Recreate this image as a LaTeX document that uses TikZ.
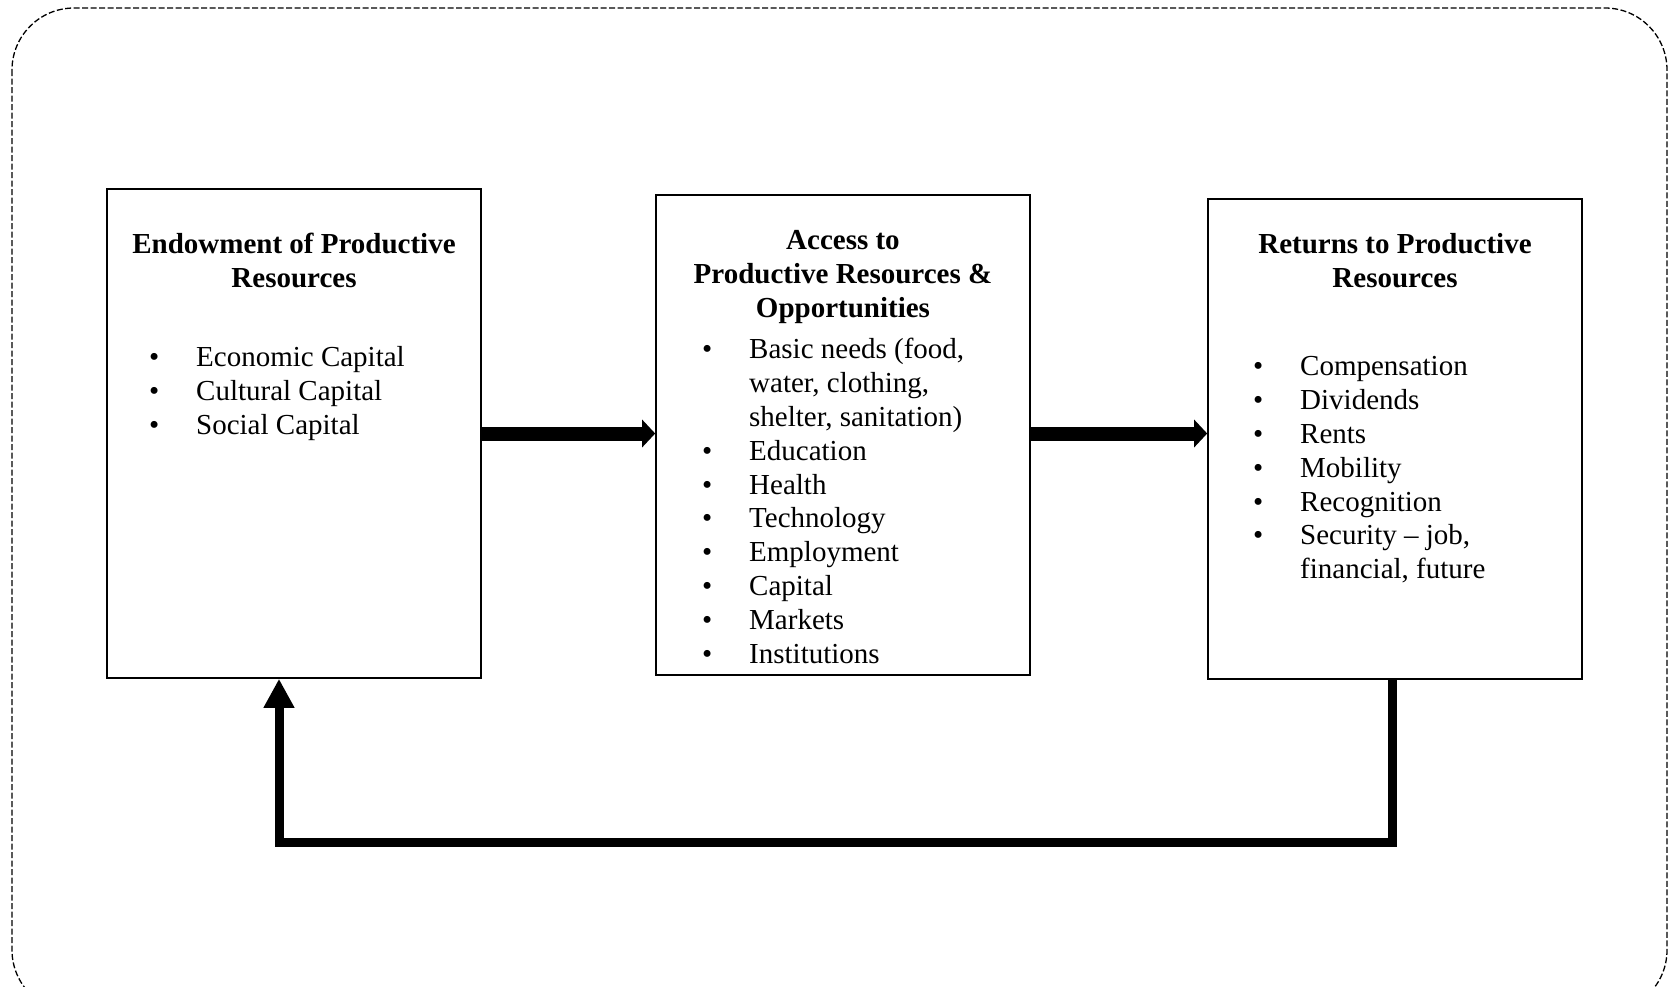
\documentclass[tikz,border=0pt]{standalone}
\usepackage{fontspec}
\setmainfont{Liberation Serif}
\usetikzlibrary{arrows.meta,positioning}

\newcommand{\bul}{\strut\makebox[47pt][l]{\textbullet}}
\newcommand{\ind}{\strut\hspace*{47pt}}

\tikzset{
	box/.style={draw, line width=1.6pt, minimum width=374pt, inner sep=0pt},
	head/.style={font=\fontsize{29}{33.8}\selectfont\bfseries, align=center, inner sep=0pt, anchor=north},
	items/.style={font=\fontsize{29}{33.8}\selectfont, align=left, inner sep=0pt, anchor=north west},
	fwd/.style={line width=14pt, -{Triangle[width=27pt,length=13pt]}},
	back/.style={line width=9pt, -{Triangle[width=29pt,length=29pt]}},
	frame/.style={line width=1.3pt, dash pattern=on 6pt off 2.5pt, rounded corners=62pt}
}

\begin{document}
\begin{tikzpicture}[x=1pt, y=-1pt]
		
		\useasboundingbox (0,0) rectangle (1672,986);
		\draw[frame] (12,8) rectangle (1667,1012);
		
		\node[box, minimum height=489pt] (b1) at (294,433.5) {};
		\node[box, minimum height=480pt] (b2) at (843,435) {};
		\node[box, minimum height=480pt] (b3) at (1395,439) {};
		
		\node[head] (t1) at (294,230) {\strut Endowment of Productive\\Resources};
		\node[head] (t2) at (843,226) {\strut Access to\\Productive Resources \&\\Opportunities};
		\node[head] (t3) at (1395,230) {\strut Returns to Productive\\Resources};
		
		\node[items] (l1) at (149,343) {\bul Economic Capital\\\bul Cultural Capital\\\bul Social Capital};
		\node[items] (l2) at (702,335) {\bul Basic needs (food,\\\ind water, clothing,\\\ind shelter, sanitation)\\\bul Education\\\bul Health\\\bul Technology\\\bul Employment\\\bul Capital\\\bul Markets\\\bul Institutions};
		\node[items] (l3) at (1253,352) {\bul Compensation\\\bul Dividends\\\bul Rents\\\bul Mobility\\\bul Recognition\\\bul Security -- job,\\\ind financial, future};
		
		\draw[fwd] (b1.east) -- (b1.east -| b2.west);
		\draw[fwd] (b2.east |- b1.east) -- (b1.east -| b3.west);
		\draw[back] ([xshift=-3pt]b3.south) -- ++(0,163) -| ([xshift=-15pt]b1.south);
		
\end{tikzpicture}
\end{document}
